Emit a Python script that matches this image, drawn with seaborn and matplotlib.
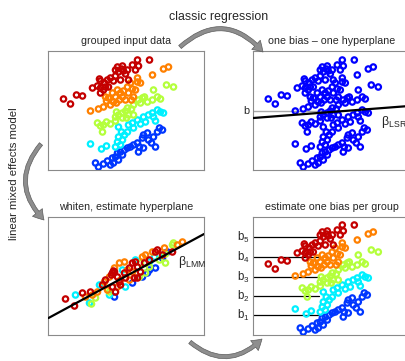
import numpy as np
import pandas as pd
import matplotlib
matplotlib.use('Agg')
import matplotlib.pyplot as plt
import seaborn as sns
from matplotlib.patches import FancyArrowPatch, ArrowStyle

# grupos de entrada (5 grupos)
g1_x = [47, 50, 55, 59, 62, 65, 67, 69, 72, 74, 76, 79, 82, 85, 89, 91, 94, 95, 99, 100, 103, 105, 109, 111, 114, 70, 64, 90, 95, 107]
g1_y = [7, 3, 6, 9, 5, 7, 13, 17, 18, 15, 20, 22, 23, 25, 27, 23, 32, 35, 37, 30, 27, 33, 38, 42, 40, 10, 12, 18, 22, 23]
g2_x = [42, 53, 58, 70, 73, 70, 69, 74, 76, 79, 80, 84, 85, 89, 92, 95, 97, 100, 104, 105, 107, 109, 112, 115, 72, 67]
g2_y = [26, 21, 24, 43, 38, 33, 28, 30, 35, 38, 45, 47, 42, 50, 46, 53, 48, 55, 57, 53, 49, 60, 58, 57, 25, 23]
g3_x = [49, 52, 54, 58, 62, 67, 68, 70, 74, 77, 79, 80, 83, 85, 90, 94, 96, 99, 104, 105, 109, 112, 118, 125, 74, 85, 92, 67, 55, 78]
g3_y = [47, 44, 38, 48, 46, 53, 58, 55, 57, 59, 62, 55, 61, 65, 70, 72, 73, 68, 70, 80, 73, 71, 85, 83, 52, 55, 67, 49, 45, 52]
g4_x = [42, 50, 55, 58, 60, 64, 67, 69, 72, 75, 79, 80, 83, 85, 87, 89, 89, 92, 82, 74, 65, 62, 71, 77, 104, 115, 120, 57, 68, 84]
g4_y = [59, 61, 63, 69, 72, 77, 73, 80, 77, 79, 83, 77, 70, 73, 80, 88, 92, 87, 87, 73, 68, 65, 70, 70, 95, 101, 103, 73, 67, 81]
g5_x = [15, 22, 28, 34, 44, 49, 52, 56, 59, 62, 67, 67, 70, 73, 75, 77, 79, 72, 65, 60, 55, 52, 80, 84, 89, 90, 87, 101, 51, 69, 74, 52, 57]
g5_y = [71, 66, 75, 74, 82, 84, 89, 87, 90, 92, 100, 94, 98, 101, 99, 96, 100, 90, 89, 83, 80, 82, 90, 105, 110, 104, 100, 110, 91, 103, 104, 77, 83]

# dados "whitened"
w1_x = [94, 99, 101, 107, 114, 117, 119, 66, 84]
w1_y = [58, 62, 65, 67, 77, 82, 83, 38, 52]
w2_x = [27, 61, 77, 87, 101, 106, 111, 51, 74, 41]
w2_y = [40, 40, 48, 75, 73, 78, 80, 50, 65, 32]
w3_x = [47, 91, 101, 111, 117, 124, 92, 61, 97, 43, 125, 117]
w3_y = [37, 58, 68, 75, 72, 90, 72, 43, 62, 31, 92, 81]
w4_x = [37, 44, 49, 59, 61, 66, 71, 76, 79, 84, 94, 97, 104, 116, 129, 134, 56, 69, 81, 72]
w4_y = [38, 40, 43, 45, 58, 67, 72, 73, 65, 63, 78, 80, 83, 87, 90, 93, 53, 48, 55, 55]
w5_x = [17, 34, 42, 54, 57, 64, 66, 69, 71, 72, 76, 81, 84, 87, 89, 92, 96, 101, 107, 109, 114, 124, 67, 64, 77, 86, 89, 26, 63, 65]
w5_y = [36, 42, 43, 50, 55, 62, 63, 58, 53, 50, 62, 67, 72, 73, 68, 63, 72, 75, 83, 85, 80, 83, 43, 48, 57, 57, 57, 29, 60, 64]

group_colors = ['#0036ff', '#00f0ff', '#b4ff3c', '#ff8000', '#c40000']
lsr_b, lsr_slope = 52, 0.077
b_level = 59
lmm_b, lmm_slope = 17, 0.54
bias_levels = [20, 39, 58, 78, 98]
bias_labels = ['1', '2', '3', '4', '5']


def make_df(xs, ys):
    rows = []
    for i, (xx, yy) in enumerate(zip(xs, ys)):
        rows.append(pd.DataFrame({'x': xx, 'y': yy, 'grupo': i + 1}))
    return pd.concat(rows, ignore_index=True)


df = make_df([g1_x, g2_x, g3_x, g4_x, g5_x], [g1_y, g2_y, g3_y, g4_y, g5_y])
dfw = make_df([w1_x, w2_x, w3_x, w4_x, w5_x], [w1_y, w2_y, w3_y, w4_y, w5_y])

sns.set_style('white')
plt.rcParams['font.family'] = ['Liberation Sans', 'DejaVu Sans']

W, H = 406, 361
fig = plt.figure(figsize=(W / 100, H / 100), dpi=100)


def px(x, y):
    return x / W, 1 - y / H


def painel(left, top, w, h):
    ax = fig.add_axes([left / W, 1 - (top + h) / H, w / W, h / H])
    ax.set_xlim(0, w)
    ax.set_ylim(0, h)
    ax.set_xticks([])
    ax.set_yticks([])
    for s in ax.spines.values():
        s.set_color('#8a8a8a')
        s.set_linewidth(0.8)
    return ax


def aneis(ax, data, palette=None, color=None):
    if palette is not None:
        sns.scatterplot(data=data, x='x', y='y', hue='grupo', palette=palette,
                        s=15, linewidth=0, legend=False, ax=ax, zorder=3)
    else:
        sns.scatterplot(data=data, x='x', y='y', color=color,
                        s=15, linewidth=0, legend=False, ax=ax, zorder=3)
    coll = ax.collections[-1]
    fc = coll.get_facecolors()
    coll.set_edgecolors(fc)
    coll.set_facecolors('none')
    coll.set_linewidths(1.6)
    ax.set_xlabel('')
    ax.set_ylabel('')


ax1 = painel(48.5, 51, 155.5, 119)
aneis(ax1, df, palette=group_colors)

ax2 = painel(253.3, 51, 155.5, 119)
aneis(ax2, df, color='#0000ff')
ax2.plot([0, 70], [b_level, b_level], color='#a8a8a8', lw=1, zorder=2)
xx = np.array([0, 155.5])
ax2.plot(xx, lsr_b + lsr_slope * xx, color='black', lw=1.6, zorder=4)
ax2.text(-4, b_level, 'b', ha='right', va='center', fontsize=7.8, clip_on=False)
ax2.text(128, 48, r'$\mathregular{\beta_{LSR}}$', ha='left', va='center', fontsize=9, clip_on=False)

ax3 = painel(48.5, 217, 155.5, 118)
aneis(ax3, dfw, palette=group_colors)
ax3.plot(xx, lmm_b + lmm_slope * xx, color='black', lw=1.6, zorder=4)
ax3.text(129, 73, r'$\mathregular{\beta_{LMM}}$', ha='left', va='center', fontsize=9)

ax4 = painel(253.3, 217, 155.5, 118)
for lvl, lab in zip(bias_levels, bias_labels):
    ax4.plot([0, 66], [lvl, lvl], color='black', lw=0.9, zorder=2)
    ax4.text(-4, lvl, r'$\mathregular{b_%s}$' % lab, ha='right', va='center', fontsize=8.3, clip_on=False)
aneis(ax4, df, palette=group_colors)

titulos = [('grouped input data', 126, 41.5), ('one bias \u2013 one hyperplane', 331.5, 41.5),
           ('whiten, estimate hyperplane', 126, 207), ('estimate one bias per group', 331.5, 207)]
for t, x, y in titulos:
    fig.text(*px(x, y), t, ha='center', va='center', fontsize=7.7)
fig.text(*px(218.5, 17), 'classic regression', ha='center', va='center', fontsize=8.9)
fig.text(*px(14, 174), 'linear mixed effects model', ha='center', va='center',
         rotation=90, fontsize=8.2)

estilo = ArrowStyle.Simple(head_length=0.8, head_width=1.0, tail_width=0.32)
setas = [((180, 47), (263, 52), -0.5), ((41, 144), (44, 220), 0.45), ((190, 342), (262, 339), 0.45)]
for a, b, r in setas:
    arr = FancyArrowPatch(px(*a), px(*b), transform=fig.transFigure, arrowstyle=estilo,
                          connectionstyle='arc3,rad=%s' % r, mutation_scale=9,
                          facecolor='#8e8e8e', edgecolor='#5c5c5c', lw=0.5,
                          shrinkA=0, shrinkB=0)
    fig.patches.append(arr)

plt.savefig('out.png', dpi=100)
